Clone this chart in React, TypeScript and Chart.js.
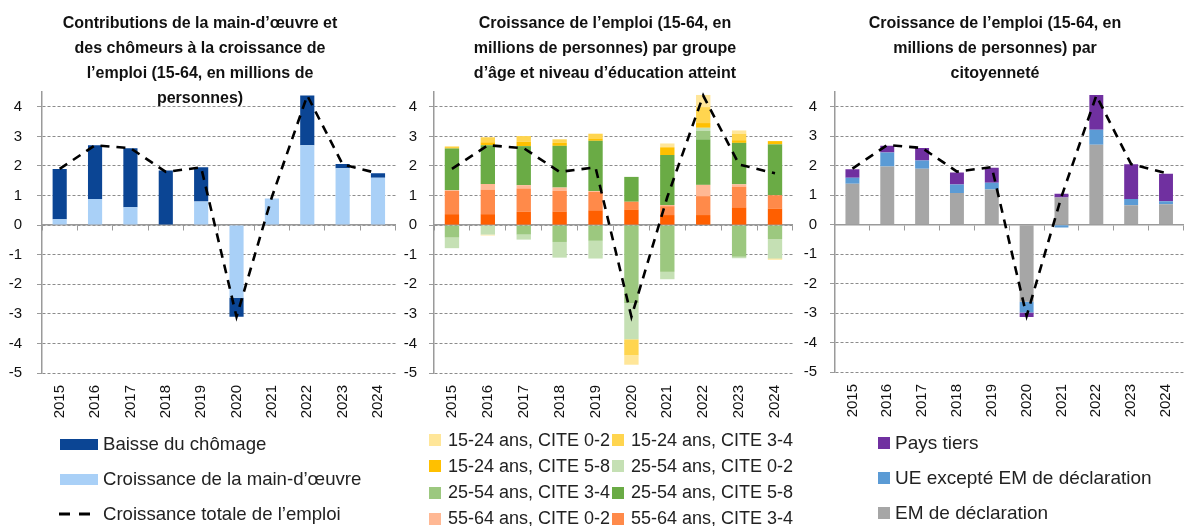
import React, { useEffect, useRef } from "react";
import { Chart, registerables } from "chart.js";

Chart.register(...registerables);

// ---------- DATA ----------
const YEARS = ["2015", "2016", "2017", "2018", "2019", "2020", "2021", "2022", "2023", "2024"];
const TOTAL_GROWTH = [1.9, 2.7, 2.6, 1.8, 1.95, -3.1, 0.95, 4.38, 2.05, 1.75];

// Panel 1
const UNEMPLOYMENT_DECLINE = [1.7, 1.82, 2.0, 1.85, 1.16, -0.64, 0.0, 1.68, 0.15, 0.15];
const LABOUR_FORCE_GROWTH = [0.2, 0.88, 0.6, 0.0, 0.8, -2.46, 0.9, 2.7, 1.92, 1.6];

// Panel 2 (age group x education)
const AGE55_64_CITE58 = [0.37, 0.37, 0.45, 0.46, 0.5, 0.53, 0.34, 0.34, 0.6, 0.56];
const AGE55_64_CITE34 = [0.79, 0.83, 0.79, 0.7, 0.62, 0.26, 0.3, 0.64, 0.7, 0.45];
const AGE55_64_CITE02 = [0.02, 0.19, 0.11, 0.11, 0.03, 0.0, 0.04, 0.38, 0.08, 0.0];
const AGE25_54_CITE58 = [1.41, 1.31, 1.32, 1.41, 1.7, 0.84, 1.69, 1.54, 1.4, 1.72];
const AGE25_54_CITE34 = [-0.42, 0.0, -0.32, -0.57, -0.53, -2.63, -1.58, 0.29, -1.07, -0.47];
const AGE25_54_CITE02 = [-0.36, -0.32, -0.17, -0.53, -0.6, -1.23, -0.25, 0.1, -0.05, -0.66];
const AGE15_24_CITE58 = [0.04, 0.1, 0.15, 0.1, 0.08, 0.0, 0.26, 0.16, 0.09, 0.11];
const AGE15_24_CITE34 = [0.03, 0.17, 0.19, 0.12, 0.16, -0.54, 0.0, 0.54, 0.22, -0.03];
const AGE15_24_CITE02 = [0.0, -0.03, 0.0, 0.0, 0.0, -0.32, 0.13, 0.41, 0.11, 0.0];

// Panel 3 (citizenship)
const REPORTING_MS = [1.39, 1.97, 1.9, 1.07, 1.19, -2.62, 0.92, 2.71, 0.66, 0.69];
const EU_EXCEPT_REPORTING = [0.2, 0.48, 0.28, 0.29, 0.23, -0.36, -0.1, 0.51, 0.21, 0.1];
const NON_EU = [0.29, 0.23, 0.42, 0.41, 0.51, -0.15, 0.13, 1.18, 1.18, 0.94];

const Y_MIN = -5;
const Y_MAX = 4.5;
const Y_TICKS = [-5, -4, -3, -2, -1, 0, 1, 2, 3, 4];

// ---------- STYLE ----------
const FONT = "'Liberation Sans', Arial, sans-serif";
const GRID = "#8c8c8c";
const AXIS = "#9a9a9a";
const C = {
  darkBlue: "#0B4594",
  lightBlue: "#A9D0F7",
  ly: "#FFE699",
  y: "#FFD54F",
  gold: "#FFC000",
  lg: "#C5E0B4",
  mg: "#9CC87F",
  dg: "#6AAB45",
  peach: "#FFB894",
  orange: "#FF8A4A",
  dorange: "#FF5F00",
  grey: "#A6A6A6",
  blue: "#5B9BD5",
  purple: "#7030A0",
};

type BarSet = { label: string; data: number[]; color: string };

const PANEL1_BARS: BarSet[] = [
  { label: "Croissance de la main-d’œuvre", data: LABOUR_FORCE_GROWTH, color: C.lightBlue },
  { label: "Baisse du chômage", data: UNEMPLOYMENT_DECLINE, color: C.darkBlue },
];

const PANEL2_BARS: BarSet[] = [
  { label: "55-64 ans, CITE 5-8", data: AGE55_64_CITE58, color: C.dorange },
  { label: "55-64 ans, CITE 3-4", data: AGE55_64_CITE34, color: C.orange },
  { label: "55-64 ans, CITE 0-2", data: AGE55_64_CITE02, color: C.peach },
  { label: "25-54 ans, CITE 5-8", data: AGE25_54_CITE58, color: C.dg },
  { label: "25-54 ans, CITE 3-4", data: AGE25_54_CITE34, color: C.mg },
  { label: "25-54 ans, CITE 0-2", data: AGE25_54_CITE02, color: C.lg },
  { label: "15-24 ans, CITE 5-8", data: AGE15_24_CITE58, color: C.gold },
  { label: "15-24 ans, CITE 3-4", data: AGE15_24_CITE34, color: C.y },
  { label: "15-24 ans, CITE 0-2", data: AGE15_24_CITE02, color: C.ly },
];

const PANEL3_BARS: BarSet[] = [
  { label: "EM de déclaration", data: REPORTING_MS, color: C.grey },
  { label: "UE excepté EM de déclaration", data: EU_EXCEPT_REPORTING, color: C.blue },
  { label: "Pays tiers", data: NON_EU, color: C.purple },
];

type PanelProps = {
  bars: BarSet[];
  left: number;
  width: number;
  height: number;
  yWidth: number;
  labelPad: number;
  topPad: number;
  xHeight: number;
};

function PanelChart({ bars, left, width, height, yWidth, labelPad, topPad, xHeight }: PanelProps) {
  const ref = useRef<HTMLCanvasElement | null>(null);
  useEffect(() => {
    if (!ref.current) return;
    const datasets: any[] = [
      {
        type: "line",
        label: "Croissance totale de l’emploi",
        data: TOTAL_GROWTH,
        borderColor: "#000",
        borderWidth: 2.6,
        borderDash: [9, 7],
        pointRadius: 0,
        tension: 0,
        stack: "line",
      },
      ...bars.map((b) => ({
        label: b.label,
        data: b.data,
        backgroundColor: b.color,
        borderWidth: 0,
        barPercentage: 1,
        categoryPercentage: 0.4,
        stack: "bars",
      })),
    ];
    const chart = new Chart(ref.current, {
      type: "bar",
      data: { labels: YEARS, datasets },
      options: {
        animation: false,
        responsive: false,
        layout: { padding: { top: topPad } },
        plugins: { legend: { display: false } },
        scales: {
          x: {
            type: "category",
            stacked: true,
            offset: true,
            grid: { display: false },
            border: { display: false },
            ticks: {
              minRotation: 90,
              maxRotation: 90,
              padding: 4,
              color: "#111",
              font: { family: FONT, size: 15 },
            },
            afterFit: (s: any) => {
              s.height = xHeight;
            },
          },
          x0: {
            type: "category",
            axis: "x",
            position: { y: 0 },
            offset: true,
            grid: { offset: true, drawOnChartArea: false, drawTicks: true, tickLength: 5, color: AXIS },
            border: { display: true, color: AXIS, width: 1.5 },
            ticks: { display: false },
          },
          y: {
            stacked: true,
            min: Y_MIN,
            max: Y_MAX,
            ticks: {
              padding: labelPad,
              autoSkip: false,
              color: "#111",
              font: { family: FONT, size: 15 },
            },
            grid: { display: true, color: GRID, lineWidth: 1, tickLength: 5, tickColor: AXIS },
            border: { display: true, color: AXIS, width: 1.5, dash: [3, 2] },
            afterBuildTicks: (s: any) => {
              s.ticks = Y_TICKS.map((v) => ({ value: v }));
            },
            afterFit: (s: any) => {
              s.width = yWidth;
            },
          },
        },
      } as any,
    });
    return () => chart.destroy();
  }, []);
  return <canvas ref={ref} width={width} height={height} style={{ position: "absolute", left, top: 0 }} />;
}

const TITLE_STYLE: React.CSSProperties = {
  position: "absolute",
  top: 10,
  width: 400,
  textAlign: "center",
  fontWeight: "bold",
  fontSize: 16,
  lineHeight: "25px",
  color: "#111",
  whiteSpace: "nowrap",
  pointerEvents: "none",
};

function LegendRow({
  x,
  cy,
  swatch,
  text,
  textX,
  size,
}: {
  x: number;
  cy: number;
  swatch: React.ReactNode;
  text: string;
  textX: number;
  size: number;
}) {
  return (
    <div style={{ position: "absolute", left: x, top: cy - 13, height: 26, display: "flex", alignItems: "center" }}>
      <div style={{ width: textX - x, display: "flex", alignItems: "center" }}>{swatch}</div>
      <span style={{ fontSize: size, color: "#222", whiteSpace: "nowrap" }}>{text}</span>
    </div>
  );
}

const sq = (color: string) => <div style={{ width: 12, height: 12, background: color }} />;
const wide = (color: string) => <div style={{ width: 38, height: 11, background: color }} />;

export default function App() {
  const p2Legend: [string, string][] = [
    ["15-24 ans, CITE 0-2", C.ly],
    ["15-24 ans, CITE 3-4", C.y],
    ["15-24 ans, CITE 5-8", C.gold],
    ["25-54 ans, CITE 0-2", C.lg],
    ["25-54 ans, CITE 3-4", C.mg],
    ["25-54 ans, CITE 5-8", C.dg],
    ["55-64 ans, CITE 0-2", C.peach],
    ["55-64 ans, CITE 3-4", C.orange],
  ];
  return (
    <div style={{ position: "fixed", left: 0, top: 0, width: 1188, height: 526, fontFamily: FONT }}>
      <PanelChart bars={PANEL1_BARS} left={0} width={400} height={424} yWidth={42} labelPad={15} topPad={92} xHeight={51} />
      <PanelChart bars={PANEL2_BARS} left={400} width={397} height={424} yWidth={34} labelPad={12} topPad={92} xHeight={51} />
      <PanelChart bars={PANEL3_BARS} left={797} width={391} height={423} yWidth={38} labelPad={13} topPad={92} xHeight={51} />

      <div style={{ ...TITLE_STYLE, left: 0 }}>
        Contributions de la main-d’œuvre et
        <br />
        des chômeurs à la croissance de
        <br />
        l’emploi (15-64, en millions de
        <br />
        personnes)
      </div>
      <div style={{ ...TITLE_STYLE, left: 405 }}>
        Croissance de l’emploi (15-64, en
        <br />
        millions de personnes) par groupe
        <br />
        d’âge et niveau d’éducation atteint
      </div>
      <div style={{ ...TITLE_STYLE, left: 795 }}>
        Croissance de l’emploi (15-64, en
        <br />
        millions de personnes) par
        <br />
        citoyenneté
      </div>

      <LegendRow x={60} cy={444} textX={103} size={18.6} swatch={wide(C.darkBlue)} text="Baisse du chômage" />
      <LegendRow x={60} cy={479} textX={103} size={18.6} swatch={wide(C.lightBlue)} text="Croissance de la main-d’œuvre" />
      <LegendRow
        x={59}
        cy={514}
        textX={103}
        size={18.6}
        swatch={
          <svg width={38} height={6}>
            <line x1={0} y1={3} x2={38} y2={3} stroke="#000" strokeWidth={3} strokeDasharray="11,9" />
          </svg>
        }
        text="Croissance totale de l’emploi"
      />

      {p2Legend.map(([t, c], i) => {
        const col = i % 2;
        const row = Math.floor(i / 2);
        const x = col === 0 ? 429 : 612;
        return <LegendRow key={t} x={x} cy={440 + row * 26.3} textX={x + 19} size={18} swatch={sq(c)} text={t} />;
      })}

      <LegendRow x={878} cy={443} textX={895} size={19} swatch={sq(C.purple)} text="Pays tiers" />
      <LegendRow x={878} cy={478} textX={895} size={19} swatch={sq(C.blue)} text="UE excepté EM de déclaration" />
      <LegendRow x={878} cy={513} textX={895} size={19} swatch={sq(C.grey)} text="EM de déclaration" />
    </div>
  );
}
